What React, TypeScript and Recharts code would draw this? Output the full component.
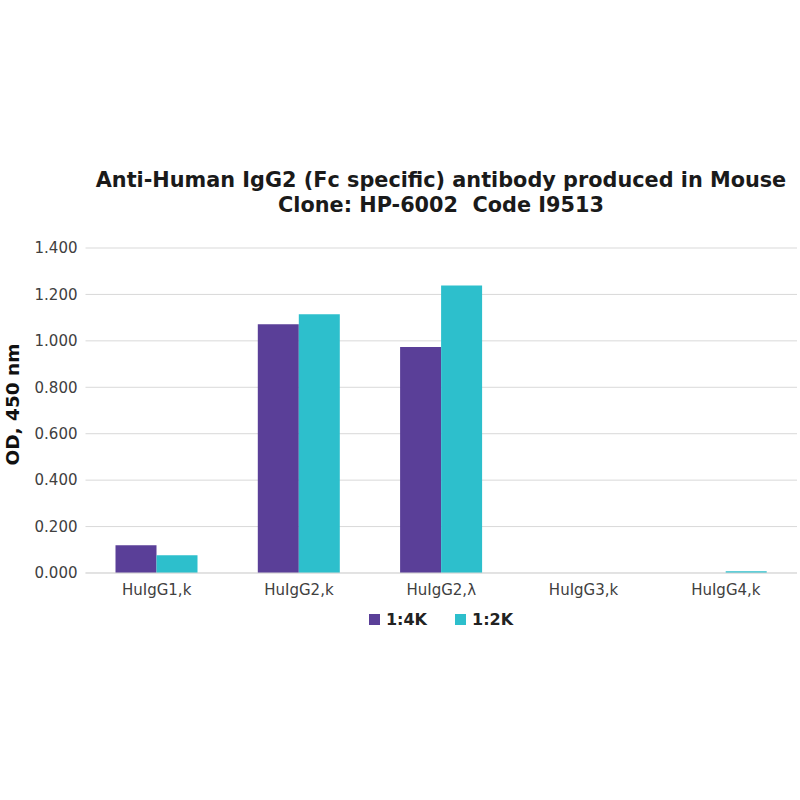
import React from 'react';
import { BarChart, Bar, XAxis, YAxis, CartesianGrid, Legend } from 'recharts';

// antibody subtypes on the x axis
const categories = ['HuIgG1,k', 'HuIgG2,k', 'HuIgG2,λ', 'HuIgG3,k', 'HuIgG4,k'];
// OD at 450 nm for each dilution
const dil4K = [0.12, 1.072, 0.974, 0, 0];
const dil2K = [0.077, 1.115, 1.239, 0, 0.008];
const yTicks = [0, 0.2, 0.4, 0.6, 0.8, 1.0, 1.2, 1.4];
const seriesNames = ['1:4K', '1:2K'];

const PURPLE = '#5a3f98';
const CYAN = '#2dbfcc';
const GRID = '#d9d9d9';
const TEXT = '#404040';

const data = categories.map((name, i) => ({
    name,
    k4: dil4K[i],
    k2: dil2K[i],
}));

const LegendContent = (props: any) => {
    const items = (props.payload || []).slice();
    // keep the series order, not alphabetic
    items.sort((a: any, b: any) => seriesNames.indexOf(a.value) - seriesNames.indexOf(b.value));
    return (
        <div style={{ display: 'flex', justifyContent: 'center', gap: 28 }}>
            {items.map((item: any) => (
                <div key={item.value} style={{ display: 'flex', alignItems: 'center' }}>
                    <span style={{ width: 11, height: 11, background: item.color, marginRight: 6, display: 'inline-block' }} />
                    <span style={{ fontFamily: 'DejaVu Sans', fontWeight: 'bold', fontSize: 16, color: '#222' }}>{item.value}</span>
                </div>
            ))}
        </div>
    );
};

const YLabel = (props: any) => {
    const vb = props.viewBox;
    const cx = vb.x + 12;
    const cy = vb.y + vb.height / 2 - 6;
    return (
        <text
            x={cx}
            y={cy}
            transform={`rotate(-90 ${cx} ${cy})`}
            textAnchor="middle"
            dominantBaseline="central"
            fontFamily="DejaVu Sans"
            fontWeight="bold"
            fontSize={18.5}
            fill="#111"
        >
            OD, 450 nm
        </text>
    );
};

export default function App() {
    return (
        <div style={{ position: 'absolute', left: 0, top: 0, width: 800, height: 800, background: '#fff' }}>
            <div
                style={{
                    position: 'absolute',
                    left: 85,
                    width: 712,
                    top: 168,
                    textAlign: 'center',
                    fontFamily: 'DejaVu Sans',
                    fontWeight: 'bold',
                    fontSize: 20.8,
                    lineHeight: '25px',
                    color: '#1a1a1a',
                    whiteSpace: 'nowrap',
                }}
            >
                <div>Anti-Human IgG2 (Fc specific) antibody produced in Mouse</div>
                <div>Clone: HP-6002&nbsp; Code I9513</div>
            </div>
            <BarChart
                width={800}
                height={800}
                data={data}
                margin={{ top: 248, right: 3, bottom: 197, left: 0 }}
                barGap={0}
                barSize={41}
                style={{ position: 'absolute', left: 0, top: 0 }}
            >
                <CartesianGrid vertical={false} stroke={GRID} />
                <XAxis
                    dataKey="name"
                    height={30}
                    tickLine={false}
                    axisLine={{ stroke: GRID }}
                    tickMargin={5}
                    tick={{ fill: TEXT, fontSize: 15, fontFamily: 'DejaVu Sans' }}
                    interval={0}
                />
                <YAxis
                    width={85.5}
                    domain={[0, 1.4]}
                    ticks={yTicks}
                    tickFormatter={(v: number) => v.toFixed(3)}
                    tickLine={false}
                    axisLine={false}
                    tick={{ fill: TEXT, fontSize: 15, fontFamily: 'DejaVu Sans' }}
                    label={{ content: YLabel }}
                />
                <Legend
                    layout="horizontal"
                    verticalAlign="middle"
                    align="center"
                    width={712}
                    wrapperStyle={{ top: 610, left: 85, width: 712 }}
                    content={LegendContent}
                />
                <Bar dataKey="k4" name="1:4K" fill={PURPLE} isAnimationActive={false} />
                <Bar dataKey="k2" name="1:2K" fill={CYAN} isAnimationActive={false} />
            </BarChart>
        </div>
    );
}
